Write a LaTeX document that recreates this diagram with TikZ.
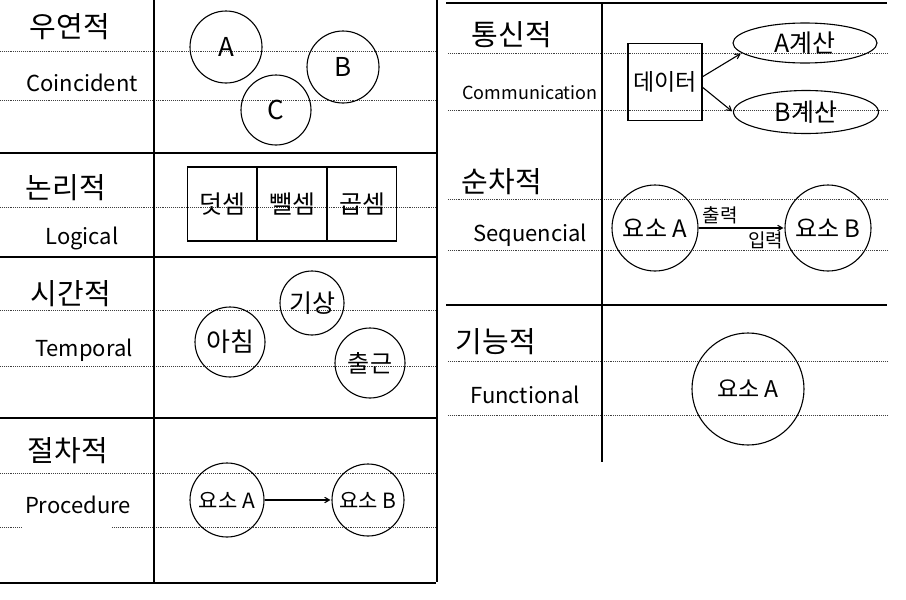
\documentclass[tikz,border=0pt]{standalone}
\usepackage{fontspec}
\setmainfont{Noto Sans CJK KR}
\usepackage{tikz}
\usetikzlibrary{arrows, positioning, shapes.geometric}

\begin{document}
\begin{tikzpicture}[x=1pt,y=-1pt,>=angle 60,shorten >=1pt,line width=1.1pt]
                \tikzset{elem/.style={draw, circle, inner sep=0pt},
                         cell/.style={draw, rectangle, minimum width=69pt, minimum height=74pt, inner sep=0pt, font=\fontsize{25}{27}\selectfont},
                         rule/.style={densely dotted, line width=0.9pt, black!75},
                         frame/.style={line width=1.4pt},
                         kor/.style={font=\fontsize{29}{31}\selectfont},
                         eng/.style={font=\fontsize{22}{24}\selectfont}}

                \useasboundingbox (0,0) rectangle (906,600);

                \foreach \y in {51,100,207,310,366,473}
                    \draw[rule] (0,\y) -- (437,\y);
                \draw[rule] (0,527) -- (22,527);
                \draw[rule] (112,527) -- (437,527);
                \foreach \y in {53,110,199,250,361,415}
                    \draw[rule] (448,\y) -- (888,\y);

                \draw[frame] (154,0) -- (154,583);
                \draw[frame] (437,0) -- (437,583);
                \foreach \y in {153,257,418,583}
                    \draw[frame] (0,\y) -- (437,\y);
                \draw[frame] (446,3) -- (888,3);
                \draw[frame] (446,305) -- (888,305);
                \draw[frame] (602,3) -- (602,463);

                \node[kor] (coinK) at (70,27) {우연적};
                \node[eng] (coinE) at (82,83) {Coincident};
                \node[kor] (logK) at (66,188) {논리적};
                \node[eng] (logE) at (82,238) {Logical};
                \node[kor] (tempK) at (71,294) {시간적};
                \node[eng] (tempE) at (84,350) {Temporal};
                \node[kor] (procK) at (68,451) {절차적};
                \node[eng] (procE) at (78,505) {Procedure};
                \node[kor] (commK) at (512,35) {통신적};
                \node[eng, font=\fontsize{18}{20}\selectfont] (commE) at (530,93) {Communication};
                \node[kor] (seqK) at (502,182) {순차적};
                \node[eng] (seqE) at (530,235) {Sequencial};
                \node[kor] (funcK) at (496,342) {기능적};
                \node[eng] (funcE) at (525,395) {Functional};

                \node[elem, minimum size=72pt, font=\fontsize{26}{28}\selectfont] (A) at (226,47) {A};
                \node[elem, minimum size=72pt, font=\fontsize{26}{28}\selectfont] (B) at (343,67) {B};
                \node[elem, minimum size=70pt, font=\fontsize{26}{28}\selectfont] (C) at (276,110) {C};

                \node[cell] (add) at (222,204) {덧셈};
                \node[cell, right=0pt of add] (sub) {뺄셈};
                \node[cell, right=0pt of sub] (mul) {곱셈};

                \node[elem, minimum size=70pt, font=\fontsize{26}{28}\selectfont] (morning) at (230,342) {아침};
                \node[elem, minimum size=64pt, font=\fontsize{25}{27}\selectfont] (wakeup) at (312,303) {기상};
                \node[elem, minimum size=70pt, font=\fontsize{24}{26}\selectfont] (commute) at (370,363) {출근};

                \node[elem, minimum size=74pt, font=\fontsize{21}{23}\selectfont] (procA) at (227,500) {요소 A};
                \node[elem, minimum size=72pt, font=\fontsize{21}{23}\selectfont] (procB) at (368,500) {요소 B};

                \node[draw, minimum width=74pt, minimum height=77pt, inner sep=0pt, font=\fontsize{23}{25}\selectfont] (data) at (665,82) {데이터};
                \node[draw, ellipse, minimum width=144pt, minimum height=40pt, inner sep=0pt, font=\fontsize{25}{27}\selectfont] (calcA) at (805,43) {A계산};
                \node[draw, ellipse, minimum width=145pt, minimum height=43pt, inner sep=0pt, font=\fontsize{25}{27}\selectfont] (calcB) at (806,112) {B계산};

                \node[elem, minimum size=86pt, font=\fontsize{24}{26}\selectfont] (seqA) at (655,228) {요소 A};
                \node[elem, minimum size=86pt, font=\fontsize{24}{26}\selectfont] (seqB) at (828,228) {요소 B};

                \node[elem, minimum size=112pt, font=\fontsize{23}{25}\selectfont] (funcA) at (748,389) {요소 A};

                \path (procA) edge[->]      node {} (procB);
                \path (data.8) edge[->]     node {} (calcA.189);
                \path (data.-8) edge[->]    node {} (calcB.west);
                \path (seqA) edge[->]       node[pos=0.25, above, font=\fontsize{19}{21}\selectfont] {출력}
                                            node[pos=0.78, below, font=\fontsize{19}{21}\selectfont] {입력} (seqB);
            \end{tikzpicture}
\end{document}
